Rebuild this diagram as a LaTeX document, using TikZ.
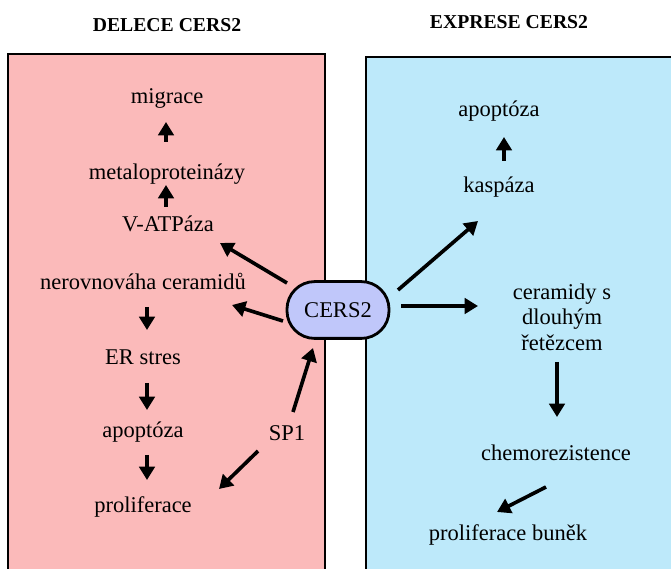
\documentclass[tikz,border=0pt]{standalone}
\usepackage{fontspec}
\setmainfont{Liberation Serif}
\usepackage{tikz}
\usetikzlibrary{arrows.meta, calc}
\usepackage{xcolor}
\definecolor{delpink}{RGB}{251,186,186}
\definecolor{exblue}{RGB}{189,233,250}
\definecolor{hubblue}{RGB}{192,199,250}

\begin{document}
\begin{tikzpicture}[x=0.025cm, y=-0.025cm,
    lbl/.style={font=\fontsize{16}{18}\selectfont, inner sep=0pt, align=center},
    hdr/.style={font=\fontsize{14}{16}\selectfont\bfseries, inner sep=0pt},
    hub/.style={draw, line width=2pt, fill=hubblue, rounded corners=0.69cm,
                minimum width=2.55cm, minimum height=1.42cm, inner sep=0pt,
                font=\fontsize{16}{18}\selectfont},
    arr/.style={line width=2.6pt, -{Triangle[length=9.5pt,width=11pt]}}]
    \clip (0,0) rectangle (671,569);

    % two panels
    \draw[fill=delpink, line width=2pt] (8,54) rectangle (325,600);
    \draw[fill=exblue, line width=2pt] (366,57) rectangle (700,600);
    \node[hdr] (hdel) at (167,25) {DELECE CERS2};
    \node[hdr] (hexp) at (509,22) {EXPRESE CERS2};

    \node[hub] (cers) at (338,310) {CERS2};

    % left side
    \node[lbl] (migr) at (167,98) {migrace};
    \node[lbl] (meta) at (167,174) {metaloproteinázy};
    \node[lbl] (vatp) at (168,224) {V-ATPáza};
    \node[lbl] (nerov) at (143,281) {nerovnováha ceramidů};
    \node[lbl] (erst) at (143,357) {ER stres};
    \node[lbl] (apoL) at (143,432) {apoptóza};
    \node[lbl] (prolL) at (143,507) {proliferace};
    \node[lbl] (sp1) at (287,433) {SP1};

    % right side
    \node[lbl] (apoR) at (499,111) {apoptóza};
    \node[lbl] (kasp) at (499,187) {kaspáza};
    \node[lbl] (cer) at (562,317) {ceramidy s\\dlouhým\\řetězcem};
    \node[lbl] (chemo) at (556,453) {chemorezistence};
    \node[lbl] (prolR) at (508,535) {proliferace buněk};

    % arrows, left
    \draw[arr] ($(meta)+(-1,-32)$) -- ($(migr)+(-1,24)$);
    \draw[arr] ($(vatp)+(-2,-17)$) -- ($(meta)+(-1,11)$);
    \draw[arr] ($(cers)+(-51,-27)$) -- ($(vatp)+(52,19)$);
    \draw[arr] ($(cers)+(-55,11)$) -- ($(nerov)+(89,24)$);
    \draw[arr] ($(nerov)+(4,26)$) -- ($(erst)+(4,-27)$);
    \draw[arr] ($(erst)+(4,26)$) -- ($(apoL)+(4,-22)$);
    \draw[arr] ($(apoL)+(4,23)$) -- ($(prolL)+(4,-27)$);
    \draw[arr] ($(sp1)+(6,-21)$) -- ($(cers)+(-25,38)$);
    \draw[arr] ($(sp1)+(-29,18)$) -- ($(prolL)+(76,-18)$);

    % arrows, right
    \draw[arr] ($(cers)+(60,-20)$) -- ($(kasp)+(-21,34)$);
    \draw[arr] ($(cers)+(63,-4)$) -- ($(cer)+(-84,-11)$);
    \draw[arr] ($(kasp)+(5,-26)$) -- ($(apoR)+(5,26)$);
    \draw[arr] ($(cer)+(-5,45)$) -- ($(chemo)+(1,-36)$);
    \draw[arr] ($(chemo)+(-10,34)$) -- ($(prolR)+(-11,-23)$);
\end{tikzpicture}
\end{document}
